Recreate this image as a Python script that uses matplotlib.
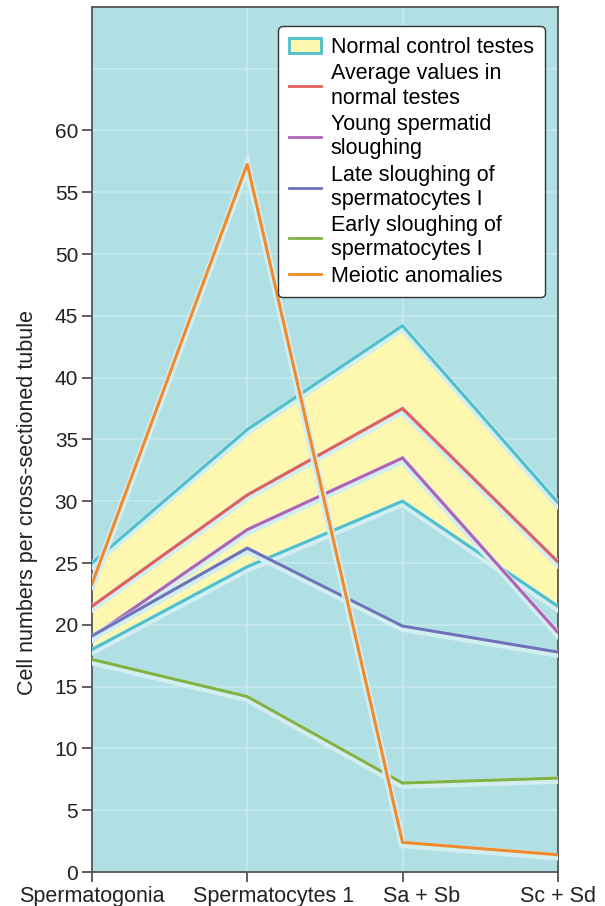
import numpy as np
import matplotlib
matplotlib.use("Agg")
import matplotlib.pyplot as plt
import matplotlib.patheffects as pe
import matplotlib.transforms as mtransforms
from matplotlib.patches import Patch
from matplotlib.lines import Line2D

plt.rcParams['font.family'] = ['Liberation Sans', 'DejaVu Sans']

stages = ["Spermatogonia", "Spermatocytes 1", "Sa + Sb", "Sc + Sd"]
normal_upper = [25.0, 35.8, 44.2, 29.9]
normal_lower = [18.0, 24.7, 30.0, 21.5]
average_normal = [21.5, 30.5, 37.5, 25.1]
young_spermatid = [19.0, 27.7, 33.5, 19.4]
late_sloughing = [19.1, 26.2, 19.9, 17.8]
early_sloughing = [17.2, 14.2, 7.2, 7.6]
meiotic = [23.3, 57.3, 2.4, 1.4]

bg = '#b0dfe4'
cyan = '#4ec0cc'
yellow = '#fef7b0'
halo = '#d2eef0'

fig = plt.figure(figsize=(6.05, 9.06), dpi=100)
ax = fig.add_axes([0.152, 0.0375, 0.770, 0.955])
ax.set_facecolor(bg)

x = np.arange(len(stages))
ax.set_xlim(0, 3)
ax.set_ylim(0, 70)

# grid
for yy in range(5, 70, 5):
    ax.axhline(yy, color='#c8eaee', lw=1.2, zorder=0.5)
for xx in x[1:3]:
    ax.axvline(xx, color='#c8eaee', lw=1.2, zorder=0.5)

ax.fill_between(x, normal_lower, normal_upper, color=yellow, zorder=1)

glow = [pe.Stroke(linewidth=5.5, foreground=halo, offset=(0, -1.5)), pe.Normal()]

series = [
    (normal_upper, cyan),
    (normal_lower, cyan),
    (average_normal, '#e0605a'),
    (young_spermatid, '#b262b2'),
    (late_sloughing, '#6e72bb'),
    (early_sloughing, '#82b244'),
    (meiotic, '#f28a2c'),
]
for vals, col in series:
    ax.plot(x, vals, color=col, lw=2.2, zorder=3, solid_joinstyle='miter',
            path_effects=glow)

ax.set_xticks(x)
ax.set_xticklabels(stages)
ax.set_yticks(range(0, 61, 5))
ax.tick_params(axis='both', length=7, width=1.2, color='#444444', labelcolor='#222222', pad=3)
ax.tick_params(axis='x', labelsize=15.5)
ax.tick_params(axis='y', labelsize=15)
# the middle category labels sit a bit right of their ticks in the original
for lab, dx in zip(ax.get_xticklabels(), [0, 26, 19, 0]):
    lab.set_transform(lab.get_transform() + mtransforms.ScaledTranslation(dx / 100, 0, fig.dpi_scale_trans))
for s in ax.spines.values():
    s.set_color('#555555')
    s.set_linewidth(1.3)
ax.set_ylabel("Cell numbers per cross-sectioned tubule", fontsize=15.5, color='#222222')
ax.yaxis.set_label_coords(-0.116, 0.427)

handles = [
    Patch(facecolor=yellow, edgecolor=cyan, linewidth=2),
    Line2D([], [], color='#e0605a', lw=2),
    Line2D([], [], color='#b262b2', lw=2),
    Line2D([], [], color='#6e72bb', lw=2),
    Line2D([], [], color='#82b244', lw=2),
    Line2D([], [], color='#f28a2c', lw=2),
]
labels = ["Normal control testes", "Average values in\nnormal testes", "Young spermatid\nsloughing",
          "Late sloughing of\nspermatocytes I", "Early sloughing of\nspermatocytes I", "Meiotic anomalies"]
leg = ax.legend(handles, labels, loc='upper right', bbox_to_anchor=(0.995, 0.99), fontsize=15.5,
                frameon=True, fancybox=True, framealpha=1, edgecolor='#333333',
                handlelength=1.5, handletextpad=0.45, labelspacing=0.25, borderpad=0.5)
leg.get_frame().set_linewidth(1.0)
for t in leg.get_texts():
    t.set_linespacing(1.2)

fig.savefig("out.png", dpi=100)
